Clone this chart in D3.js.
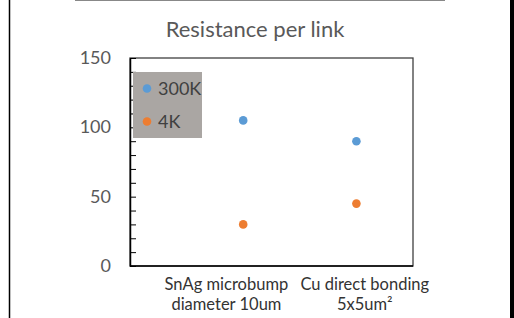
<!DOCTYPE html>
<html>
<head>
<meta charset="utf-8">
<script src="https://cdn.jsdelivr.net/npm/d3@7"></script>
<style>
body { margin: 0; background: #fff; }
text { font-family: Lato, "Open Sans", sans-serif; }
</style>
</head>
<body>
<div id="chart"></div>
<script>
// chart data
var categories = ["SnAg microbump|diameter 10um", "Cu direct bonding|5x5um\u00b2"];
var seriesNames = ["300K", "4K"];
var series300K = [105, 90];
var series4K = [30, 45];
var yTicks = [0, 50, 100, 150];
var colors = ["#5b9bd5", "#ed7d31"];

var W = 514, H = 318;
var margin = {top: 58, left: 130, right: 101, bottom: 52};
var width = W - margin.left - margin.right;
var height = H - margin.top - margin.bottom;

var svg = d3.select("#chart").append("svg")
  .attr("width", W).attr("height", H);

// outer slide borders
svg.append("line").attr("x1", 9.5).attr("x2", 9.5).attr("y1", 0).attr("y2", H)
  .attr("stroke", "#000").attr("stroke-width", 1.5);
svg.append("rect").attr("x", 510).attr("y", 0).attr("width", 4).attr("height", H).attr("fill", "#000");
svg.append("line").attr("x1", 75).attr("x2", 445).attr("y1", 0.5).attr("y2", 0.5)
  .attr("stroke", "#888").attr("stroke-width", 1);

svg.append("text")
  .attr("x", 255).attr("y", 37)
  .attr("text-anchor", "middle")
  .style("font-size", "22px").style("fill", "#595959")
  .text("Resistance per link");

var g = svg.append("g").attr("transform", "translate(" + margin.left + "," + margin.top + ")");

var x = d3.scaleLinear().domain([0, 2.5]).range([0, width]);
// the category text boxes sit a little off the points
var xLabel = d3.scaleLinear().domain([0, 2.5]).range([-42, 304]);
var y = d3.scaleLinear().domain([0, 150]).range([height, 0]);

// frame
g.append("rect").attr("x", 0).attr("y", 0).attr("width", width).attr("height", height)
  .attr("fill", "none").attr("stroke", "#404040").attr("stroke-width", 1.3);

// y axis with inward minor ticks
var yAxis = g.append("g")
  .call(d3.axisLeft(y).tickValues(d3.range(0, 151, 10)).tickSize(-6).tickSizeOuter(0).tickFormat(""));
yAxis.select(".domain").attr("stroke", "#000").attr("stroke-width", 1.5);
yAxis.selectAll(".tick line").attr("stroke", "#000");

g.selectAll(".ylab").data(yTicks).enter().append("text")
  .attr("class", "ylab")
  .attr("x", -19).attr("y", function (d) { return y(d) + 6; })
  .attr("text-anchor", "end")
  .style("font-size", "18px").style("fill", "#595959")
  .text(function (d) { return d; });

g.append("line").attr("x1", 0).attr("x2", width).attr("y1", height).attr("y2", height)
  .attr("stroke", "#000").attr("stroke-width", 1.5);

// category labels
categories.forEach(function (c, i) {
  var t = g.append("text")
    .attr("x", xLabel(i + 1)).attr("y", height + 24)
    .attr("text-anchor", "middle")
    .style("font-size", "16.5px").style("fill", "#333");
  c.split("|").forEach(function (line, j) {
    t.append("tspan").attr("x", xLabel(i + 1)).attr("dy", j ? 20 : 0).text(line);
  });
});

// points
[series300K, series4K].forEach(function (s, k) {
  g.selectAll(".pt" + k).data(s).enter().append("circle")
    .attr("cx", function (d, i) { return x(i + 1); })
    .attr("cy", function (d) { return y(d); })
    .attr("r", 4.3)
    .attr("fill", colors[k]);
});

// legend
var lg = g.append("g").attr("transform", "translate(3," + 14 + ")");
lg.append("rect").attr("width", 69).attr("height", 66).attr("fill", "#aaa6a3");
seriesNames.forEach(function (n, i) {
  lg.append("circle").attr("cx", 14).attr("cy", 16.5 + i * 33).attr("r", 4.3).attr("fill", colors[i]);
  lg.append("text").attr("x", 25).attr("y", 22.5 + i * 33)
    .style("font-size", "18px").style("fill", "#404040").text(n);
});
</script>
</body>
</html>
